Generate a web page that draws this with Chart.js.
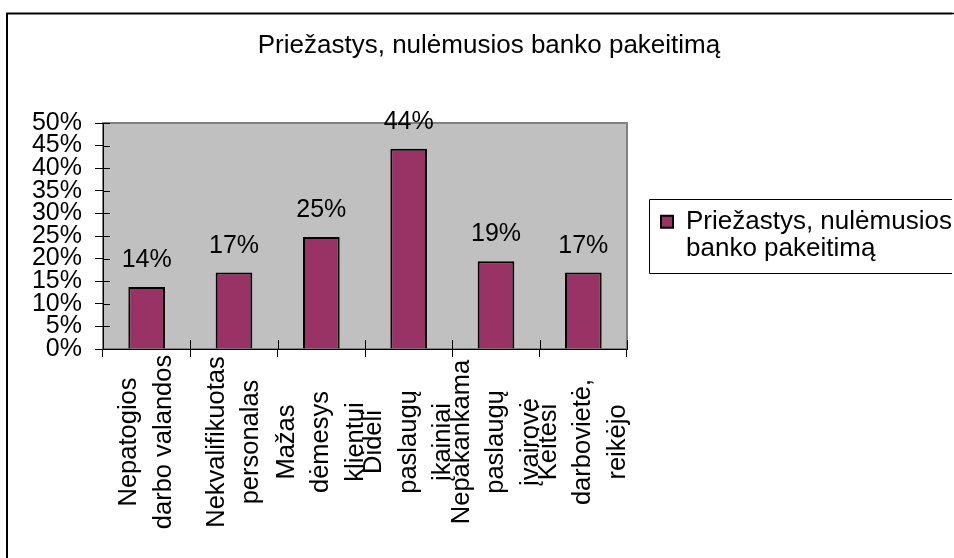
<!DOCTYPE html>
<html>
<head>
<meta charset="utf-8">
<script src="https://cdn.jsdelivr.net/npm/chart.js@4.4.1/dist/chart.umd.min.js"></script>
<style>
  html, body { margin: 0; padding: 0; background: #ffffff; overflow: hidden; }
  canvas { display: block; }
</style>
</head>
<body>
<canvas id="c" width="954" height="558"></canvas>
<script>
// ---- data ----
const chartTitle = "Priežastys, nulėmusios banko pakeitimą";
const seriesLabel = ["Priežastys, nulėmusios", "banko pakeitimą"];
const categories = [
  ["Nepatogios", "darbo valandos"],
  ["Nekvalifikuotas", "personalas"],
  ["Mažas", "dėmesys", "klientui"],
  ["Dideli", "paslaugų", "įkainiai"],
  ["Nepakankama", "paslaugų", "įvairovė"],
  ["Keitėsi", "darbovietė,", "reikėjo"]
];
const values = [13.7, 16.9, 24.8, 44.3, 19.4, 16.9];
const valueLabels = ["14%", "17%", "25%", "44%", "19%", "17%"];
const yMin = 0, yMax = 50, yStep = 5;

// ---- style ----
const FONT = '"Liberation Sans", Arial, sans-serif';
const BAR_COLOR = '#993366';
const PLOT_BG = '#c0c0c0';

const decorPlugin = {
  id: 'decor',
  afterLayout(chart) {
    // let the legend text run to the canvas edge (reference is cropped there)
    const lg = chart.legend;
    if (lg) { lg.right = chart.width + 200; lg.width = lg.right - lg.left; }
  },
  beforeDraw(chart) {
    const { ctx, chartArea: a } = chart;
    ctx.save();
    ctx.fillStyle = '#ffffff';
    ctx.fillRect(0, 0, chart.width, chart.height);
    // plot area
    ctx.fillStyle = PLOT_BG;
    ctx.fillRect(a.left, a.top, a.right - a.left, a.bottom - a.top);
    ctx.strokeStyle = '#808080';
    ctx.lineWidth = 2;
    ctx.strokeRect(a.left, a.top, a.right - a.left, a.bottom - a.top);
    // outer frame (left and top edges visible)
    ctx.strokeStyle = '#000000';
    ctx.lineWidth = 2;
    ctx.beginPath();
    ctx.moveTo(7, chart.height + 10);
    ctx.lineTo(7, 13.5);
    ctx.lineTo(chart.width + 10, 13.5);
    ctx.stroke();
    // title
    ctx.fillStyle = '#000000';
    ctx.font = '26px ' + FONT;
    ctx.textAlign = 'center';
    ctx.textBaseline = 'middle';
    ctx.fillText(chartTitle, (chart.width + 24) / 2, 46);
    ctx.restore();
  },
  afterDatasetsDraw(chart) {
    const { ctx } = chart;
    const meta = chart.getDatasetMeta(0);
    ctx.save();
    ctx.fillStyle = '#000000';
    ctx.font = '25px ' + FONT;
    ctx.textAlign = 'center';
    ctx.textBaseline = 'middle';
    meta.data.forEach((el, i) => {
      ctx.fillText(valueLabels[i], el.x, el.y - 27);
    });
    ctx.restore();
  },
  afterDraw(chart) {
    const { ctx, chartArea: a } = chart;
    const xs = chart.scales.x, ys = chart.scales.y;
    ctx.save();
    // inner halves of the crossing tick marks
    ctx.strokeStyle = '#000000';
    ctx.lineWidth = 1;
    ys.ticks.forEach(t => {
      const y = Math.round(ys.getPixelForValue(t.value)) + 0.5;
      ctx.beginPath(); ctx.moveTo(a.left, y); ctx.lineTo(a.left + 7, y); ctx.stroke();
    });
    const n = categories.length;
    const step = (xs.right - xs.left) / n;
    for (let i = 0; i <= n; i++) {
      const x = Math.round(xs.left + i * step) + 0.5;
      ctx.beginPath(); ctx.moveTo(x, a.bottom - 9); ctx.lineTo(x, a.bottom); ctx.stroke();
    }
    // legend frame
    const lg = chart.legend;
    if (lg && lg.legendHitBoxes && lg.legendHitBoxes.length) {
      const hb = lg.legendHitBoxes[0];
      ctx.strokeStyle = '#000000';
      ctx.lineWidth = 1;
      const l = Math.round(hb.left - 12) + 0.5;
      const t = Math.round(hb.top - 10) + 0.5;
      const b = Math.round(hb.top + hb.height + 10) + 0.5;
      ctx.beginPath();
      ctx.moveTo(chart.width + 10, t);
      ctx.lineTo(l, t);
      ctx.lineTo(l, b);
      ctx.lineTo(chart.width + 10, b);
      ctx.stroke();
    }
    // category labels, rotated
    ctx.fillStyle = '#000000';
    ctx.font = '25.5px ' + FONT;
    ctx.textAlign = 'center';
    ctx.textBaseline = 'middle';
    const lineGap = 34.5;
    const cy = 442;
    categories.forEach((lines, i) => {
      const cx = xs.getPixelForValue(i);
      lines.forEach((line, j) => {
        const x = cx + (j - (lines.length - 1) / 2) * lineGap;
        ctx.save();
        ctx.translate(x, cy);
        ctx.rotate(-Math.PI / 2);
        ctx.fillText(line, 0, 0);
        ctx.restore();
      });
    });
    // clear the far-right column (the reference is cropped there)
    ctx.fillStyle = '#ffffff';
    ctx.fillRect(chart.width - 2, 0, 2, 12.5);
    ctx.fillRect(chart.width - 2, 14.5, 2, chart.height);
    ctx.restore();
  }
};

new Chart(document.getElementById('c'), {
  type: 'bar',
  data: {
    labels: categories,
    datasets: [{
      label: seriesLabel,
      data: values,
      backgroundColor: BAR_COLOR,
      borderColor: '#000000',
      borderWidth: 2,
      barPercentage: 0.42,
      categoryPercentage: 1.0
    }]
  },
  options: {
    responsive: false,
    animation: false,
    layout: { padding: { top: 123, left: 0, right: 118, bottom: 0 } },
    plugins: {
      title: { display: false },
      tooltip: { enabled: false },
      legend: {
        display: true,
        position: 'right',
        fullSize: false,
        align: 'center',
        labels: {
          boxWidth: 12,
          boxHeight: 12,
          padding: 34,
          color: '#000000',
          font: { family: FONT, size: 26, lineHeight: 1.05 }
        }
      }
    },
    scales: {
      x: {
        type: 'category',
        offset: true,
        grid: { display: true, offset: true, drawOnChartArea: false, drawTicks: true, tickLength: 8, color: '#000000', lineWidth: 1 },
        border: { display: true, color: '#000000', width: 1 },
        ticks: { display: false },
        afterFit(scale) { scale.height = 209; }
      },
      y: {
        min: yMin,
        max: yMax,
        grid: { display: true, drawOnChartArea: false, drawTicks: true, tickLength: 8, color: '#000000', lineWidth: 1 },
        border: { display: true, color: '#000000', width: 1 },
        ticks: {
          stepSize: yStep,
          autoSkip: false,
          padding: 13,
          color: '#000000',
          font: { family: FONT, size: 25 },
          callback: v => v + '%'
        },
        afterFit(scale) { scale.width = 103; }
      }
    }
  },
  plugins: [decorPlugin]
});
</script>
</body>
</html>
